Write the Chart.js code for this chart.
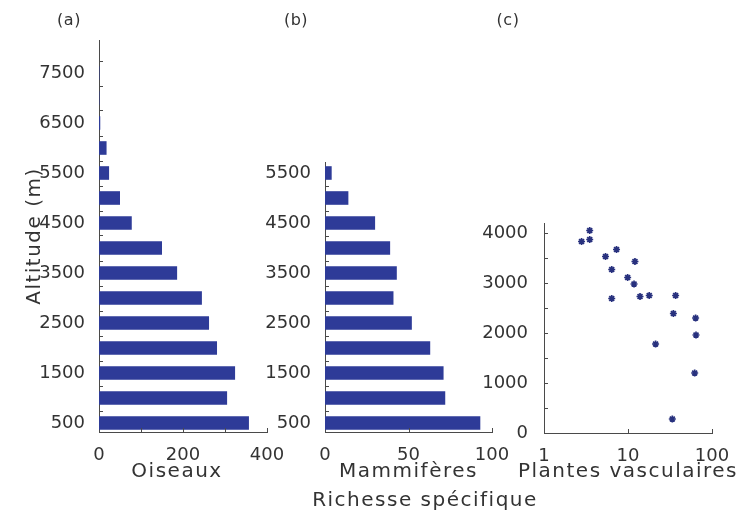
<!DOCTYPE html>
<html lang="fr">
<head>
<meta charset="utf-8">
<title>Richesse spécifique et altitude</title>
<script src="https://cdn.jsdelivr.net/npm/chart.js@4/dist/chart.umd.min.js"></script>
<style>
  html, body { margin: 0; padding: 0; background: #fff; }
  #stage { position: relative; width: 742px; height: 515px; overflow: hidden; }
  #stage canvas { position: absolute; left: 0; top: 0; }
</style>
</head>
<body>
<div id="stage">
  <canvas id="birds" width="742" height="515"></canvas>
  <canvas id="mammals" width="742" height="515"></canvas>
  <canvas id="plants" width="742" height="515"></canvas>
</div>
<script>
// ---- Data: species richness by altitude band (m) ----
const birdAltitudes = [500, 1000, 1500, 2000, 2500, 3000, 3500, 4000, 4500, 5000, 5500, 6000, 6500, 7000, 7500];
const birdRichness  = [357, 305, 324, 281, 262, 245, 186, 150, 78, 50, 24, 18, 3, 1, 1];

const mammalAltitudes = [500, 1000, 1500, 2000, 2500, 3000, 3500, 4000, 4500, 5000, 5500];
const mammalRichness  = [93, 72, 71, 63, 52, 41, 43, 39, 30, 14, 4];

// Vascular plants: one point per survey site
const plantRichness  = [2.8, 3.5, 3.5, 5.4, 7.3, 6.4, 6.4, 12.1, 9.9, 11.8, 13.9, 17.9, 21.3, 36.9, 34.7, 33.7, 63.8, 64.5, 62.2];
const plantAltitudes = [3830, 4050, 3870, 3530, 3670, 3270, 2690, 3430, 3110, 2980, 2730, 2750, 1780, 2750, 2390, 280, 2300, 1960, 1200];

// ---- Tick values ----
const birdAltTicks     = [500, 1500, 2500, 3500, 4500, 5500, 6500, 7500];
const mammalAltTicks   = [500, 1500, 2500, 3500, 4500, 5500];
const plantAltTicks    = [0, 1000, 2000, 3000, 4000];
const birdCountTicks   = [0, 200, 400];
const mammalCountTicks = [0, 50, 100];
const plantCountTicks  = [1, 10, 100];

// short inward tick marks
const birdBandEdges    = [750, 1250, 1750, 2250, 2750, 3250, 3750, 4250, 4750, 5250, 5750, 6250, 6750, 7250, 7750];
const mammalBandEdges  = [750, 1250, 1750, 2250, 2750, 3250, 3750, 4250, 4750, 5250];
const birdCountMarks   = [100, 200, 300, 400];
const mammalCountMarks = [50, 100];
const plantCountMarks  = [10, 100];
const plantAltMarks    = [500, 1000, 1500, 2000, 2500, 3000, 3500, 4000];

// ---- Styling ----
const FONT = '"DejaVu Sans", Verdana, sans-serif';
const INK = '#333333';
const AXIS = '#4a4a4a';
const BAR = '#2e3b98';
const DOT = '#28317e';
const tickFont = { family: FONT, size: 18 };

// Inward tick marks along the bottom and left axes
const innerTicks = {
  id: 'innerTicks',
  afterDraw(chart, args, opts) {
    const { ctx, chartArea: a } = chart;
    const len = opts.length || 4;
    ctx.save();
    ctx.strokeStyle = AXIS;
    ctx.lineWidth = 1;
    ctx.beginPath();
    (opts.x || []).forEach(v => {
      const px = Math.round(chart.scales.x.getPixelForValue(v)) + 0.5;
      ctx.moveTo(px, a.bottom);
      ctx.lineTo(px, a.bottom - len);
    });
    (opts.y || []).forEach(v => {
      const py = Math.round(chart.scales.y.getPixelForValue(v)) + 0.5;
      ctx.moveTo(a.left, py);
      ctx.lineTo(a.left + len, py);
    });
    ctx.stroke();
    ctx.restore();
  }
};

// Panel letters and axis captions
const captions = {
  id: 'captions',
  afterDraw(chart, args, opts) {
    const { ctx, chartArea: a } = chart;
    ctx.save();
    ctx.fillStyle = INK;
    ctx.textAlign = 'center';
    ctx.textBaseline = 'middle';
    (opts.items || []).forEach(c => {
      ctx.font = `${c.size}px ${FONT}`;
      if ('letterSpacing' in ctx) ctx.letterSpacing = (c.spacing || 0) + 'px';
      const x = typeof c.x === 'function' ? c.x(a) : c.x;
      const y = typeof c.y === 'function' ? c.y(a) : c.y;
      ctx.save();
      ctx.translate(x, y);
      if (c.rotate) ctx.rotate(c.rotate);
      ctx.fillText(c.text, 0, 0);
      ctx.restore();
    });
    ctx.restore();
  }
};

function fixedAxis(opts) {
  const { size, ticks, horizontal } = opts;
  return {
    grid: { display: false },
    border: { display: true, color: AXIS, width: 1 },
    ticks: { font: tickFont, color: INK, padding: opts.padding, autoSkip: false, maxRotation: 0, callback: v => String(v) },
    afterBuildTicks: s => { s.ticks = ticks.map(v => ({ value: v })); },
    afterFit: s => {
      if (horizontal) s.height = size; else s.width = size;
      s.paddingLeft = s.paddingRight = s.paddingTop = s.paddingBottom = 0;
    }
  };
}

const common = {
  responsive: false,
  animation: false,
  events: [],
};

const LABEL = { size: 20, spacing: 1.5 };
const LETTER = { size: 16, spacing: 0.5 };

// (a) Birds
new Chart(document.getElementById('birds'), {
  type: 'bar',
  data: {
    datasets: [{
      data: birdAltitudes.map((alt, i) => ({ x: birdRichness[i], y: alt })),
      backgroundColor: BAR,
      borderWidth: 0,
      barPercentage: 0.68,
      categoryPercentage: 0.8
    }]
  },
  options: {
    ...common,
    indexAxis: 'y',
    layout: { autoPadding: false, padding: { left: 0, right: 475, top: 40, bottom: 43 } },
    plugins: {
      legend: { display: false },
      tooltip: { enabled: false },
      innerTicks: { x: birdCountMarks, y: birdBandEdges, length: 4 },
      captions: { items: [
        { text: '(a)', x: 69, y: 21, ...LETTER },
        { text: 'Altitude (m)', x: 35, y: a => (a.top + a.bottom) / 2, rotate: -Math.PI / 2, ...LABEL },
        { text: 'Oiseaux', x: 177, y: a => a.bottom + 39.5, ...LABEL },
        { text: 'Richesse spécifique', x: 425, y: 501, ...LABEL }
      ] }
    },
    scales: {
      x: { type: 'linear', position: 'bottom', min: 0, max: 400,
           ...fixedAxis({ size: 40, ticks: birdCountTicks, horizontal: true, padding: 5 }) },
      y: { type: 'linear', position: 'left', min: 320, max: 8160, offset: false,
           ...fixedAxis({ size: 99, ticks: birdAltTicks, horizontal: false, padding: 6 }) }
    }
  },
  plugins: [innerTicks, captions]
});

// (b) Mammals
new Chart(document.getElementById('mammals'), {
  type: 'bar',
  data: {
    datasets: [{
      data: mammalAltitudes.map((alt, i) => ({ x: mammalRichness[i], y: alt })),
      backgroundColor: BAR,
      borderWidth: 0,
      barPercentage: 0.68,
      categoryPercentage: 0.8
    }]
  },
  options: {
    ...common,
    indexAxis: 'y',
    layout: { autoPadding: false, padding: { left: 0, right: 250, top: 162, bottom: 43 } },
    plugins: {
      legend: { display: false },
      tooltip: { enabled: false },
      innerTicks: { x: mammalCountMarks, y: mammalBandEdges, length: 4 },
      captions: { items: [
        { text: '(b)', x: 296, y: 21, ...LETTER },
        { text: 'Mammifères', x: a => (a.left + a.right) / 2, y: a => a.bottom + 39.5, ...LABEL }
      ] }
    },
    scales: {
      x: { type: 'linear', position: 'bottom', min: 0, max: 100,
           ...fixedAxis({ size: 40, ticks: mammalCountTicks, horizontal: true, padding: 5 }) },
      y: { type: 'linear', position: 'left', min: 320, max: 5720, offset: false,
           ...fixedAxis({ size: 325, ticks: mammalAltTicks, horizontal: false, padding: 6 }) }
    }
  },
  plugins: [innerTicks, captions]
});

// (c) Vascular plants
new Chart(document.getElementById('plants'), {
  type: 'scatter',
  data: {
    datasets: [{
      data: plantRichness.map((r, i) => ({ x: r, y: plantAltitudes[i] })),
      pointStyle: 'star',
      radius: 3.5,
      borderWidth: 1.7,
      borderColor: DOT,
      backgroundColor: DOT
    }]
  },
  options: {
    ...common,
    layout: { autoPadding: false, padding: { left: 0, right: 30, top: 223, bottom: 42 } },
    plugins: {
      legend: { display: false },
      tooltip: { enabled: false },
      innerTicks: { x: plantCountMarks, y: plantAltMarks, length: 4 },
      captions: { items: [
        { text: '(c)', x: 508, y: 21, ...LETTER },
        { text: 'Plantes vasculaires', x: a => (a.left + a.right) / 2, y: a => a.bottom + 38.5, ...LABEL }
      ] }
    },
    scales: {
      x: { type: 'logarithmic', position: 'bottom', min: 1, max: 100,
           ...fixedAxis({ size: 40, ticks: plantCountTicks, horizontal: true, padding: 5 }) },
      y: { type: 'linear', position: 'left', min: 0, max: 4200,
           ...fixedAxis({ size: 544, ticks: plantAltTicks, horizontal: false, padding: 8 }) }
    }
  },
  plugins: [innerTicks, captions]
});
</script>
</body>
</html>
